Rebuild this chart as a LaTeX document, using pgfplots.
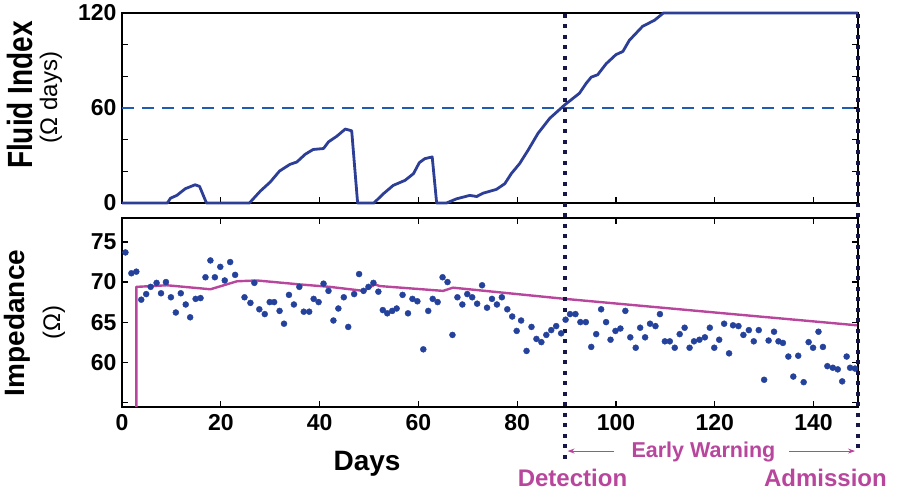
\documentclass[border=0pt]{standalone}
\usepackage{pgfplots}
\pgfplotsset{compat=1.18}
\usepackage{fontspec}
\setmainfont{Liberation Sans}
\usetikzlibrary{arrows.meta}
\definecolor{lineblue}{RGB}{44,62,150}
\definecolor{dashblue}{RGB}{30,92,180}
\definecolor{dotblue}{RGB}{36,66,156}
\definecolor{magentaC}{RGB}{184,70,156}
\definecolor{navyC}{RGB}{22,22,72}
\pgfplotsset{
  panel/.style={
    scale only axis, width=736bp,
    xmin=0, xmax=149,
    axis line style={line width=1.5bp},
    every tick/.style={line width=1.2bp, black},
    major tick length=6bp,
    tick align=inside,
    xtick={0,20,...,140},
    ticklabel style={font=\fontsize{23bp}{23bp}\selectfont\bfseries},
    /pgf/number format/assume math mode=true,
    xticklabel style={yshift=-4bp},
    yticklabel style={xshift=-2bp},
    clip=false,
  }
}
\begin{document}
\begin{tikzpicture}
\useasboundingbox (0bp,0bp) rectangle (897bp,493bp);
% ---------- top panel ----------
\begin{axis}[panel, at={(122bp,290bp)}, anchor=south west, height=190bp,
  ymin=0, ymax=120,
  ytick={0,20,...,120}, yticklabels={0,,,60,,,120},
  xtick pos=lower, ytick pos=both, xticklabels={},
]
\addplot[dashblue, line width=2.6bp, dash pattern=on 12bp off 8bp] coordinates {(0,60) (149,60)};
\addplot[lineblue, line width=2.8bp, line join=round] coordinates {
(0,0) (9.2,0) (9.8,3.0) (11.1,4.8) (12.8,9.0) (14.8,11.5) (15.7,10.5) (17.1,0)
(25.8,0) (28.0,7.5) (30.0,13.2) (31.9,20.2) (34.0,24.4) (35.4,25.9) (37.1,30.8)
(38.7,33.8) (40.8,34.4) (41.8,38.6) (43.5,42.2) (45.2,46.7) (46.5,45.6) (47.7,0)
(51.0,0) (52.9,5.8) (54.9,11.1) (57.3,14.3) (59.0,18.5) (60.2,25.5) (61.3,28.0)
(62.8,29.1) (63.7,0) (65.7,0) (67.7,2.6) (70.4,4.8) (71.8,4.1) (73.1,6.2)
(75.8,8.6) (77.5,12.2) (78.8,18.5) (80.5,24.9) (82.2,33.3) (84.2,43.9) (86.6,53.5)
(89.6,61.9) (92.6,69.3) (94.0,75.7) (95.0,79.5) (96.3,81.0) (98.0,87.9)
(100.0,93.7) (101.4,95.7) (102.7,102.7) (105.4,111.6) (107.8,115.4) (109.6,120)
(149,120)};
\node[rotate=90, yscale=1.25, font=\fontsize{28bp}{28bp}\selectfont\bfseries] at (rel axis cs:-0.1386,0.568) {Fluid Index};
\node[rotate=90, font=\fontsize{24bp}{24bp}\selectfont] at (rel axis cs:-0.0965,0.555) {(Ω days)};
\end{axis}
% ---------- bottom panel ----------
\begin{axis}[panel, at={(122bp,86bp)}, anchor=south west, height=189bp,
  ymin=54.4, ymax=78,
  ytick={55,60,...,75}, yticklabels={,60,65,70,75},
  xtick pos=both, ytick pos=both, xticklabel pos=lower, yticklabel pos=left,
]
\addplot[only marks, mark=*, mark size=3bp, dotblue, mark options={draw=dotblue, fill=dotblue}] coordinates {
(0.7,73.7) (1.9,71.1) (2.9,71.3) (3.9,67.8) (4.9,68.5) (5.8,69.4) (7.0,69.9) (7.9,68.6)
(8.9,70.0) (9.9,68.1) (10.9,66.2) (11.9,68.6) (12.9,67.2) (13.8,65.6) (14.9,67.9)
(15.9,68.0) (16.9,70.6) (17.9,72.7) (18.8,70.6) (19.9,71.9) (20.8,70.2) (21.9,72.5)
(22.9,70.9) (24.8,68.1) (26.0,67.4) (26.8,69.9) (27.8,66.6) (28.9,66.0) (29.9,67.5)
(30.8,67.5) (31.9,66.4) (32.8,64.8) (33.8,68.4) (34.8,67.2) (35.9,69.4) (36.8,66.3)
(37.9,66.3) (38.8,67.9) (39.8,67.5) (40.8,69.8) (41.8,68.9) (42.8,65.2) (43.8,66.7)
(44.9,68.1) (45.8,64.4) (47.0,68.5) (48.0,71.0) (48.9,68.9) (49.9,69.4) (50.9,69.9)
(51.9,68.8) (52.8,66.5) (53.7,66.1) (54.7,66.4) (55.6,66.7) (56.8,68.4) (57.9,66.1)
(58.8,67.9) (59.8,67.6) (61.0,61.6) (62.0,66.4) (62.9,67.9) (63.9,67.5) (64.9,70.6)
(65.9,70.0) (66.9,63.4) (67.9,68.1) (68.9,67.2) (69.9,68.5) (70.9,68.1) (71.9,67.3)
(72.9,69.6) (73.9,66.8) (74.9,67.9) (75.9,67.2) (76.9,68.1) (78.0,66.6) (79.0,65.7)
(79.9,63.9) (80.8,65.2) (81.9,61.4) (82.9,64.4) (83.9,62.9) (84.9,62.5) (85.9,63.4)
(86.9,64.0) (87.9,64.5) (88.9,63.6) (89.8,65.3) (90.7,66.0) (91.8,66.0) (92.8,65.0)
(93.9,65.0) (95.0,61.9) (96.0,63.5) (97.0,66.6) (98.0,65.0) (98.9,62.8) (99.9,63.9)
(100.9,64.2) (101.9,66.4) (102.9,63.1) (104.0,61.8) (104.9,64.3) (105.9,63.1)
(106.9,64.8) (108.0,64.5) (108.9,66.0) (109.9,62.6) (110.9,62.6) (111.9,61.8)
(112.9,63.5) (113.9,64.3) (114.9,61.8) (115.8,62.6) (116.9,62.8) (118.0,63.1)
(119.0,64.3) (119.9,61.8) (120.9,62.8) (121.9,64.8) (122.9,61.1) (123.7,64.6)
(124.8,64.5) (125.8,63.4) (126.9,64.0) (127.9,62.6) (128.9,64.0) (130.0,57.8)
(130.9,62.7) (132.0,63.8) (132.9,62.6) (133.8,62.4) (134.9,60.7) (135.9,58.2)
(136.9,60.8) (138.0,57.5) (139.0,62.5) (139.9,61.8) (141.0,63.8) (141.9,61.9)
(142.8,59.5) (143.9,59.3) (144.9,59.1) (145.8,57.6) (146.7,60.7) (147.4,59.3)
(148.4,59.2)};
\addplot[magentaC, line width=2.4bp, line join=round] coordinates {
(2.9,54.4) (2.9,69.4) (9.1,69.6) (17.9,69.1) (23.3,70.1) (27.3,70.2) (36.1,69.7)
(42.1,69.4) (48.9,68.9) (51.2,69.7) (52.2,69.5) (65.0,68.9) (67.0,69.3) (89.7,67.9)
(120,66.2) (148.8,64.6)};
% reference lines and annotations
\draw[navyC, line width=4bp, dash pattern=on 4bp off 6.5bp] (axis cs:89.7,103.5) -- (axis cs:89.7,47.4);
\draw[navyC, line width=4bp, dash pattern=on 4bp off 6.5bp] (axis cs:148.9,103.5) -- (axis cs:148.9,48.7);
\draw[magentaC, line width=1bp, -{Stealth[length=7bp,width=5bp]}] (axis cs:99.7,48.9) -- (axis cs:90.2,48.9);
\draw[magentaC, line width=1bp, -{Stealth[length=7bp,width=5bp]}] (axis cs:135,48.9) -- (axis cs:148.4,48.9);
\node[text=magentaC, font=\fontsize{21.5bp}{21.5bp}\selectfont\bfseries] at (axis cs:117.7,48.8) {Early Warning};
\node[text=magentaC, font=\fontsize{24bp}{24bp}\selectfont\bfseries] at (axis cs:91.2,45.56) {Detection};
\node[text=magentaC, font=\fontsize{24bp}{24bp}\selectfont\bfseries] at (axis cs:142.4,45.56) {Admission};
\node[font=\fontsize{28bp}{28bp}\selectfont\bfseries] at (rel axis cs:0.333,-0.302) {Days};
\node[rotate=90, font=\fontsize{28bp}{28bp}\selectfont\bfseries] at (rel axis cs:-0.142,0.445) {Impedance};
\node[rotate=90, font=\fontsize{24bp}{24bp}\selectfont] at (rel axis cs:-0.0924,0.445) {(Ω)};
\end{axis}
\end{tikzpicture}
\end{document}
